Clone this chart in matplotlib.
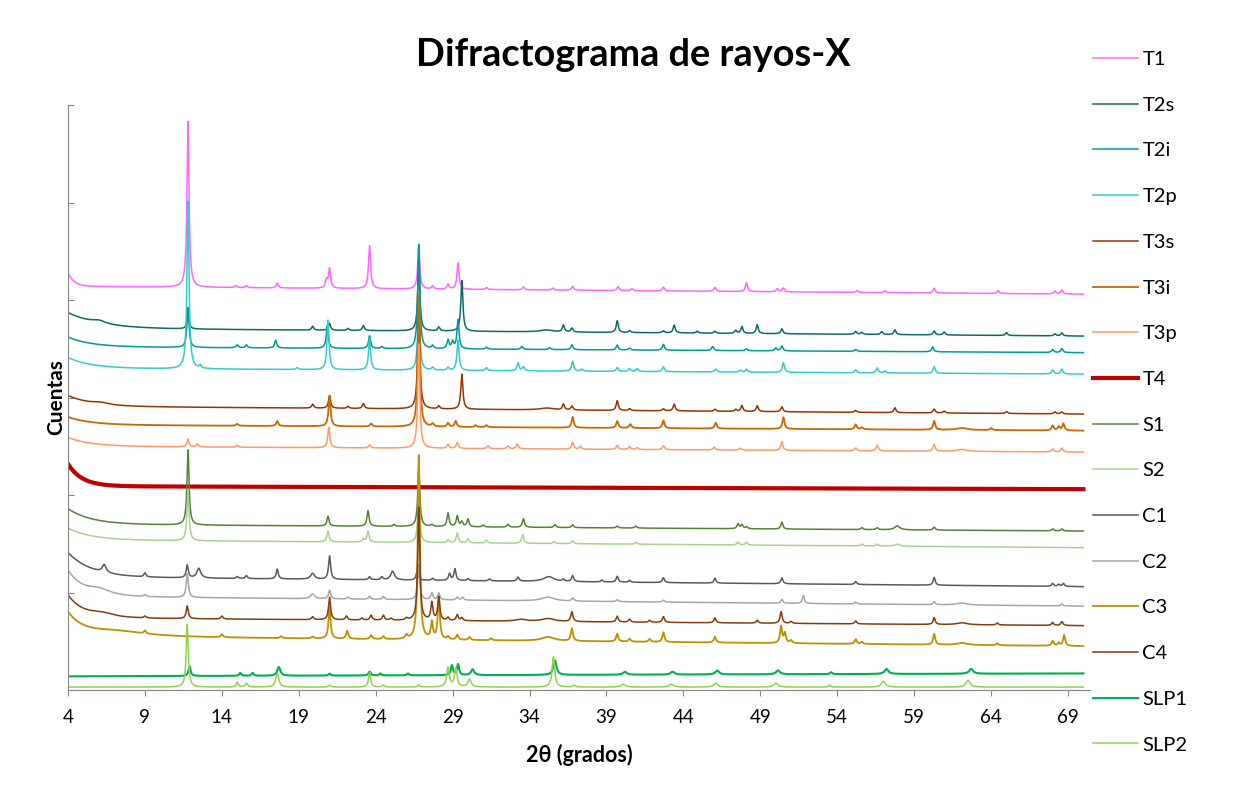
import matplotlib
matplotlib.use('Agg')
import matplotlib.pyplot as plt
import numpy as np

plt.rcParams['font.family'] = ['Lato', 'DejaVu Sans']

labels = ['T1', 'T2s', 'T2i', 'T2p', 'T3s', 'T3i', 'T3p', 'T4',
          'S1', 'S2', 'C1', 'C2', 'C3', 'C4', 'SLP1', 'SLP2']
colors = ['#FF66FF', '#0B6B6B', '#009999', '#33CCCC', '#993300', '#CC6600', '#FF9966', '#C00000',
          '#548235', '#A9D18E', '#595959', '#A6A6A6', '#BF9000', '#843C0C', '#00B050', '#92D050']
widths = [1.1, 1.1, 1.1, 1.1, 1.1, 1.3, 1.1, 3, 1.1, 1.1, 1.1, 1.1, 1.3, 1.1, 1.5, 1.1]

# background of each trace: level at 70 deg, linear tilt (extra at 4 deg), low-angle rise and its decay (deg)
base_end = [4060, 3630, 3460, 3240, 2830, 2660, 2440, 2060, 1630, 1460, 1060, 860, 450, 660, 170, 30]
base_tilt = [80, 80, 60, 60, 80, 60, 60, 30, 70, 80, 100, 100, 100, 80, -30, 0]
base_rise = [140, 160, 100, 110, 110, 80, 90, 230, 160, 120, 250, 260, 230, 230, 0, 0]
base_decay = [0.4, 2.0, 1.5, 1.5, 1.5, 1.5, 1.5, 0.9, 1.5, 1.5, 1.5, 1.0, 1.0, 1.0, 1.0, 1.0]

# peaks: (2theta, height above background) or (2theta, height, half width)
T1_peaks = [(11.8, 1700), (14.9, 20), (15.6, 20), (17.6, 50), (20.8, 80), (21.0, 200), (23.6, 440),
            (26.8, 430), (27.7, 30), (28.7, 50), (29.35, 270), (31.2, 20), (33.6, 30), (35.5, 20),
            (36.8, 40), (39.75, 40), (40.65, 20), (42.7, 40), (46.05, 40), (48.1, 90), (50.1, 30),
            (50.5, 40), (55.3, 20), (57.1, 20), (60.3, 50), (64.45, 30), (68.15, 30), (68.6, 40)]
T2s_peaks = [(6.0, 30, 0.5), (11.8, 150), (19.9, 40), (21.0, 70), (22.2, 20), (23.2, 50), (26.8, 720),
             (28.1, 40), (29.6, 520), (35.1, 20, 0.5), (36.2, 70), (36.75, 40), (39.7, 120), (40.5, 20),
             (42.7, 20), (43.4, 80), (44.9, 20), (46.05, 20), (47.4, 30), (47.8, 70), (48.8, 90),
             (50.4, 50), (55.2, 30), (55.6, 20), (56.9, 30), (57.75, 50), (60.3, 40), (60.95, 30),
             (65.0, 30), (68.15, 20), (68.6, 30)]
T2i_peaks = [(11.8, 410), (15.0, 30), (15.6, 30), (17.5, 80), (20.85, 230), (23.6, 130), (24.4, 20),
             (26.8, 1070), (27.7, 30), (28.7, 90), (29.0, 70), (29.35, 300), (31.2, 20), (33.5, 30),
             (35.3, 20), (36.75, 50), (39.7, 50), (40.5, 20), (42.7, 60), (45.9, 40), (48.1, 20),
             (50.0, 30), (50.4, 50), (55.2, 20), (60.2, 50), (68.0, 30), (68.6, 40)]
T2p_peaks = [(11.8, 1720), (12.6, 30), (18.9, 20), (20.9, 510), (23.6, 320), (26.8, 740), (27.7, 30),
             (28.7, 30), (29.35, 310), (31.2, 30), (33.25, 80), (33.6, 40), (36.8, 100), (37.4, 20),
             (39.7, 40), (40.5, 30), (41.0, 30), (42.7, 50), (46.1, 30), (47.7, 20), (48.1, 30),
             (50.5, 100), (55.2, 30), (56.6, 50), (57.1, 20), (60.3, 70), (68.0, 40), (68.6, 50)]
T3s_peaks = [(6.1, 20, 0.6), (19.9, 40), (21.0, 130), (22.2, 20), (23.2, 50), (26.8, 1150), (28.1, 30),
             (29.6, 360), (35.1, 20, 0.5), (36.2, 60), (36.75, 40), (39.7, 100), (40.5, 20), (42.7, 20),
             (43.4, 70), (46.05, 20), (47.4, 20), (47.8, 60), (48.8, 60), (50.4, 50), (55.2, 20),
             (57.75, 50), (60.3, 40), (60.95, 20), (65.0, 20), (68.15, 20), (68.6, 20)]
T3i_peaks = [(15.0, 20), (17.6, 50), (21.0, 310), (23.7, 30), (26.8, 1350), (27.7, 30), (28.7, 40),
             (29.2, 60), (30.5, 20), (31.2, 20), (36.8, 110), (39.7, 70), (40.55, 40), (42.7, 80),
             (46.1, 60), (50.5, 120), (55.2, 50), (55.6, 20), (60.3, 90), (62.1, 20, 0.4), (64.0, 20),
             (68.0, 50), (68.4, 40), (68.7, 70)]
T3p_peaks = [(11.8, 80), (12.4, 30), (15.0, 20), (20.95, 210), (23.6, 30), (26.8, 1070), (28.7, 40),
             (29.3, 60), (31.3, 30), (32.6, 30), (33.2, 50), (36.8, 70), (37.3, 30), (39.7, 40),
             (40.5, 30), (41.0, 20), (42.7, 40), (46.0, 30), (47.7, 20), (50.4, 90), (55.2, 30),
             (56.6, 60), (60.3, 70), (62.1, 20, 0.4), (68.0, 30), (68.6, 40)]
T4_peaks = []
S1_peaks = [(11.8, 770), (20.9, 100), (23.5, 160), (25.2, 20), (26.8, 610), (27.65, 20), (28.7, 140),
            (29.3, 110), (29.6, 50), (30.0, 80), (31.0, 20), (32.6, 30), (33.6, 90), (35.65, 30),
            (36.8, 30), (39.7, 20), (40.9, 20), (47.55, 50), (47.8, 40), (48.1, 20), (50.4, 70),
            (55.6, 20), (56.6, 20), (57.9, 40, 0.2), (60.3, 30), (68.0, 20), (68.6, 20)]
S2_peaks = [(11.8, 510), (20.9, 110), (23.2, 30), (23.5, 110), (26.8, 480), (28.7, 30), (29.3, 100),
            (30.0, 40), (31.2, 30), (33.55, 90), (35.6, 20), (36.8, 30), (40.9, 20), (47.55, 30),
            (48.1, 30), (55.6, 20), (56.6, 20), (57.9, 20, 0.2)]
C1_peaks = [(6.35, 80, 0.15), (9.0, 40), (11.75, 130), (12.5, 100, 0.15), (15.0, 20), (15.6, 30),
            (17.6, 100), (19.9, 60, 0.15), (21.0, 240), (23.6, 30), (24.4, 30), (25.1, 90, 0.15),
            (26.7, 100), (27.7, 20), (28.8, 70), (29.15, 120), (30.0, 20), (31.4, 20), (33.25, 40),
            (35.25, 50, 0.4), (36.2, 20), (36.8, 60), (38.7, 20), (39.7, 60), (40.5, 20), (42.7, 50),
            (46.05, 50), (50.4, 60), (55.2, 30), (60.3, 80), (68.0, 30), (68.4, 20), (68.7, 30)]
C2_peaks = [(6.0, 60, 1.0), (9.0, 20), (11.75, 240), (19.9, 50, 0.15), (21.0, 90), (22.2, 20), (23.6, 30),
            (24.5, 30), (26.8, 360), (27.65, 70), (28.1, 70), (29.3, 30), (29.65, 30), (35.2, 40, 0.5),
            (36.8, 30), (39.7, 20), (42.7, 20), (50.4, 40), (51.8, 80), (55.2, 20), (60.3, 30),
            (62.1, 20, 0.4), (68.6, 20)]
C3_peaks = [(7.0, 60, 2.5), (9.0, 30), (14.0, 30), (17.85, 20), (19.9, 20), (21.0, 320), (22.15, 80),
            (23.7, 40), (24.5, 30), (26.0, 40), (26.8, 1890), (27.65, 170), (28.1, 430), (28.7, 30),
            (29.3, 50), (30.1, 30), (31.5, 20), (35.2, 40, 0.5), (36.75, 130), (39.7, 80), (40.5, 30),
            (41.8, 30), (42.7, 100), (46.05, 60), (50.35, 170), (50.6, 100), (51.0, 30), (55.2, 50),
            (55.6, 20), (60.3, 110), (62.1, 20, 0.4), (64.4, 20), (68.0, 50), (68.4, 30), (68.75, 110)]
C4_peaks = [(6.2, 40, 1.0), (9.0, 20), (11.75, 130), (14.0, 30), (19.9, 30), (21.0, 230), (22.1, 40),
            (23.1, 20), (23.7, 50), (24.5, 50), (25.0, 20), (26.0, 20), (26.8, 1160), (27.65, 180),
            (28.1, 240), (28.7, 30), (29.3, 60), (29.6, 30), (33.45, 20, 0.4), (35.2, 30, 0.5),
            (36.75, 100), (39.7, 60), (40.5, 30), (41.8, 20), (42.7, 60), (46.05, 50), (48.8, 30),
            (50.35, 120), (51.0, 20), (55.2, 30), (60.3, 70), (62.1, 20, 0.4), (64.4, 20), (68.0, 30),
            (68.6, 40)]
SLP1_peaks = [(11.9, 100), (15.2, 30), (16.0, 30), (17.7, 90, 0.12), (21.0, 20), (23.6, 40), (24.3, 20),
              (26.1, 20), (28.95, 100), (29.35, 110), (30.3, 60, 0.12), (35.65, 150, 0.12),
              (40.2, 30, 0.15), (43.3, 30, 0.15), (46.2, 40, 0.15), (50.15, 40, 0.15), (53.6, 20),
              (57.2, 50, 0.15), (62.7, 50, 0.15)]
SLP2_peaks = [(11.75, 640), (15.0, 50), (15.6, 40), (17.6, 140, 0.12), (21.0, 20), (23.6, 150), (24.5, 20),
              (26.8, 20), (28.7, 200, 0.1), (29.2, 190, 0.1), (30.1, 80, 0.12), (35.55, 310, 0.1),
              (36.9, 20), (40.1, 30, 0.15), (43.2, 30, 0.15), (46.1, 40, 0.15), (50.0, 40, 0.15),
              (53.5, 20), (57.0, 60, 0.15), (62.5, 70, 0.15)]

peaks = [T1_peaks, T2s_peaks, T2i_peaks, T2p_peaks, T3s_peaks, T3i_peaks, T3p_peaks, T4_peaks,
         S1_peaks, S2_peaks, C1_peaks, C2_peaks, C3_peaks, C4_peaks, SLP1_peaks, SLP2_peaks]

two_theta = np.arange(4, 70.005, 0.01)


def pattern(i):
    y = (base_end[i] + base_tilt[i] * (70 - two_theta) / 66
         + base_rise[i] * np.exp(-(two_theta - 4) / base_decay[i]))
    for p in peaks[i]:
        w = p[2] if len(p) > 2 else 0.08
        y = y + p[1] / (1 + ((two_theta - p[0]) / w) ** 2)
    return y


fig = plt.figure(figsize=(12.48, 7.92), dpi=100)
ax = fig.add_axes([68 / 1248, 102 / 792, 1022 / 1248, 585 / 792])

for i in range(len(labels)):
    ax.plot(two_theta, pattern(i), color=colors[i], lw=widths[i], label=labels[i])

ax.set_xlim(4, 70.43)
ax.set_ylim(0, 6000)
ax.set_xticks(np.arange(4, 70, 5))
ax.set_yticks(np.arange(0, 6001, 1000))
ax.set_yticklabels([])
ax.tick_params(axis='y', direction='in', length=4.5, color='#868686')
ax.tick_params(axis='x', direction='out', length=4.5, color='#868686', labelsize=13.5, pad=9)
for s in ['top', 'right']:
    ax.spines[s].set_visible(False)
for s in ['left', 'bottom']:
    ax.spines[s].set_color('#868686')

ax.set_xlabel('2θ (grados)', fontweight='bold', fontsize=15.5, labelpad=13)
ax.set_ylabel('Cuentas', fontweight='bold', fontsize=15, labelpad=-2)
fig.text(633 / 1248, 1 - 55 / 792, 'Difractograma de rayos-X', ha='center', va='center',
         fontsize=27.3, fontweight='bold')

fig.legend(loc='upper left', bbox_to_anchor=(1093 / 1248, 1 - 51 / 792), frameon=False,
           fontsize=14.5, handlelength=2.25, handletextpad=0.2, labelspacing=1.42, borderpad=0,
           borderaxespad=0)

fig.savefig('out.png', dpi=100)
